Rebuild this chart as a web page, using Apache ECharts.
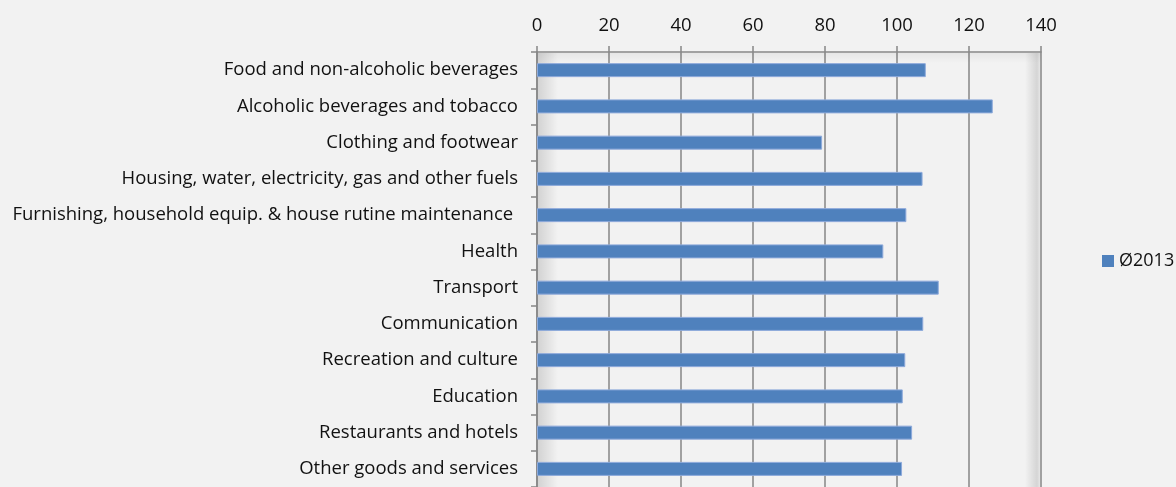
<!DOCTYPE html>
<html><head><meta charset="utf-8">
<script src="https://cdn.jsdelivr.net/npm/echarts@6/dist/echarts.min.js"></script>
<style>html,body{margin:0;padding:0;background:#F2F2F2;}#c{width:1176px;height:487px;}</style>
</head><body><div id="c"></div>
<script>
const categories = [
  "Food and non-alcoholic beverages",
  "Alcoholic beverages and tobacco",
  "Clothing and footwear",
  "Housing, water, electricity, gas and other fuels",
  "Furnishing, household equip. & house rutine maintenance ",
  "Health",
  "Transport",
  "Communication",
  "Recreation and culture",
  "Education",
  "Restaurants and hotels",
  "Other goods and services"
];
const values2013 = [108.0, 126.6, 79.2, 107.1, 102.6, 96.2, 111.6, 107.3, 102.3, 101.6, 104.2, 101.4];
const seriesName = "Ø2013";
const xTicks = { min: 0, max: 140, interval: 20 };

const FONT = "Open Sans";
const FS = 18.5;
const chart = echarts.init(document.getElementById('c'), null, {renderer: 'canvas'});
const option = {
  backgroundColor: '#F2F2F2',
  animation: false,
  textStyle: { fontFamily: FONT },
  grid: { left: 537, top: 52, width: 504, height: 441.6, containLabel: false },
  legend: {
    data: [seriesName],
    left: 1097, top: 247,
    itemWidth: 12, itemHeight: 12, itemGap: 5,
    icon: 'rect',
    itemStyle: { borderWidth: 0 },
    textStyle: { fontFamily: FONT, fontSize: 18, color: '#111', padding: [2,0,0,0] }
  },
  xAxis: {
    type: 'value', position: 'top',
    min: xTicks.min, max: xTicks.max, interval: xTicks.interval,
    axisLine: { show: true, lineStyle: { color: '#868686', width: 1.5 } },
    axisTick: { show: true, length: 6, lineStyle: { color: '#868686', width: 1.5 } },
    splitLine: { show: true, lineStyle: { color: '#868686', width: 1.5 } },
    axisLabel: { fontFamily: FONT, fontSize: FS, color: '#111', margin: 17 }
  },
  yAxis: {
    type: 'category', inverse: true, data: categories,
    axisLine: { show: true, lineStyle: { color: '#868686', width: 1.5 } },
    axisTick: { show: true, length: 6, lineStyle: { color: '#868686', width: 1.5 } },
    axisLabel: { fontFamily: FONT, fontSize: FS, color: '#111', margin: 19 }
  },
  series: [{
    name: seriesName, type: 'bar', data: values2013, barWidth: 14,
    itemStyle: { color: '#4F81BD', borderColor: '#8EAADB', borderWidth: 1 }
  }]
};
chart.setOption(option);
// inner shading at plot edges (derived from the axis scale)
const xl = chart.convertToPixel({xAxisIndex:0}, xTicks.min);
const xr = chart.convertToPixel({xAxisIndex:0}, xTicks.max);
const yt = 52, yb = 487;
chart.setOption({ graphic: [
  { type:'rect', z: 0, silent:true, shape:{x:xl+1, y:yt+1, width:20, height:yb-yt},
    style:{ fill: new echarts.graphic.LinearGradient(0,0,1,0,[{offset:0,color:'rgba(0,0,0,0.13)'},{offset:1,color:'rgba(0,0,0,0)'}]) } },
  { type:'rect', z: 0, silent:true, shape:{x:xr-16, y:yt+1, width:15, height:yb-yt},
    style:{ fill: new echarts.graphic.LinearGradient(0,0,1,0,[{offset:0,color:'rgba(0,0,0,0)'},{offset:0.8,color:'rgba(0,0,0,0.12)'},{offset:1,color:'rgba(0,0,0,0.05)'}]) } },
  { type:'rect', z: 0, silent:true, shape:{x:xl, y:yt+1, width:xr-xl, height:10},
    style:{ fill: new echarts.graphic.LinearGradient(0,0,0,1,[{offset:0,color:'rgba(0,0,0,0.05)'},{offset:1,color:'rgba(0,0,0,0)'}]) } }
]});
</script></body></html>
